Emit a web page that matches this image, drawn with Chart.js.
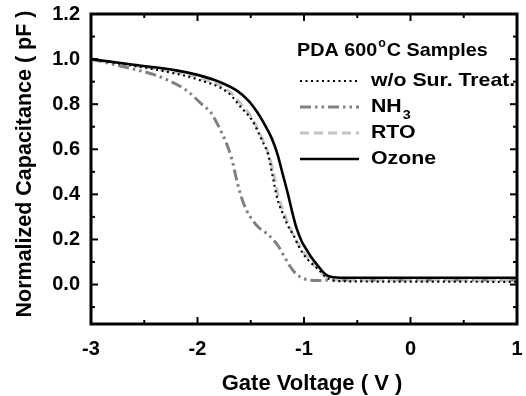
<!DOCTYPE html>
<html><head><meta charset="utf-8">
<script src="https://cdn.jsdelivr.net/npm/chart.js@4.4.1/dist/chart.umd.min.js"></script>
<style>html,body{margin:0;padding:0;background:#fff}</style>
</head><body>
<canvas id="c" width="526" height="396"></canvas>
<script>
// ---- data ----
const xTicks = [-3, -2, -1, 0, 1];
const yTicks = [0, 0.2, 0.4, 0.6, 0.8, 1.0, 1.2];
const xMinorTicks = [-2.5, -1.5, -0.5, 0.5];
const yMinorTicks = [-0.1, 0.1, 0.3, 0.5, 0.7, 0.9, 1.1];

const vWo = [-3, -2.6, -2.3, -2.0, -1.71, -1.59, -1.49, -1.40, -1.33, -1.29, -1.25, -1.20, -1.15, -1.10, -1.05, -0.99, -0.93, -0.86, -0.80, -0.74, -0.65, 0, 1];
const cWo = [1.00, 0.97, 0.945, 0.91, 0.85, 0.785, 0.73, 0.645, 0.565, 0.47, 0.38, 0.315, 0.26, 0.22, 0.17, 0.125, 0.095, 0.065, 0.035, 0.02, 0.015, 0.013, 0.012];

const vNH3 = [-3, -2.64, -2.4, -2.27, -2.1, -1.96, -1.87, -1.80, -1.74, -1.68, -1.63, -1.59, -1.54, -1.49, -1.43, -1.36, -1.30, -1.24, -1.18, -1.13, -1.08, -1.02, -0.95, -0.85, -0.75, 0, 1];
const cNH3 = [1.00, 0.96, 0.93, 0.905, 0.86, 0.80, 0.76, 0.70, 0.64, 0.56, 0.46, 0.39, 0.33, 0.29, 0.255, 0.23, 0.205, 0.17, 0.12, 0.08, 0.05, 0.03, 0.02, 0.018, 0.02, 0.02, 0.02];

const vRTO = [-3, -2.6, -2.3, -2.0, -1.71, -1.59, -1.49, -1.40, -1.33, -1.28, -1.24, -1.19, -1.14, -1.09, -1.04, -0.99, -0.93, -0.87, -0.82, -0.77, -0.72, -0.65, 0, 1];
const cRTO = [1.00, 0.972, 0.95, 0.92, 0.86, 0.80, 0.74, 0.655, 0.575, 0.48, 0.39, 0.32, 0.26, 0.21, 0.17, 0.135, 0.10, 0.07, 0.045, 0.03, 0.022, 0.02, 0.02, 0.02];

const vOzone = [-3, -2.6, -2.2, -2.0, -1.8, -1.63, -1.52, -1.44, -1.37, -1.30, -1.25, -1.20, -1.15, -1.11, -1.07, -1.02, -0.97, -0.93, -0.88, -0.83, -0.78, -0.72, -0.65, -0.5, 0, 0.5, 1];
const cOzone = [1.00, 0.975, 0.95, 0.93, 0.90, 0.86, 0.815, 0.765, 0.71, 0.645, 0.58, 0.49, 0.40, 0.32, 0.25, 0.19, 0.15, 0.12, 0.09, 0.06, 0.04, 0.032, 0.03, 0.03, 0.03, 0.03, 0.03];

const seriesLabels = [['w/o Sur. Treat.', ''], ['NH', '3'], ['RTO', ''], ['Ozone', '']];

const pts = (v, c) => v.map((x, i) => ({x, y: c[i]}));
const FONT = '"Liberation Sans", Arial, Helvetica, sans-serif';

const datasets = [
  {data: pts(vWo, cWo), borderColor: '#000', borderWidth: 2.2, borderDash: [2, 3.5], order: 2},
  {data: pts(vNH3, cNH3), borderColor: '#808080', borderWidth: 3, borderDash: [11, 4, 2.5, 4, 2.5, 4], order: 4},
  {data: pts(vRTO, cRTO), borderColor: '#c4c4c4', borderWidth: 3, borderDash: [9, 5], order: 3},
  {data: pts(vOzone, cOzone), borderColor: '#000', borderWidth: 2.6, borderDash: [], order: 1}
];
datasets.forEach(d => { d.showLine = true; d.pointRadius = 0; d.fill = false; d.cubicInterpolationMode = 'monotone'; });

// draw text, optionally stretched horizontally by factor s
function wideText(ctx, text, x, y, font, s) {
  ctx.font = font;
  const w = ctx.measureText(text).width * (s || 1);
  ctx.save(); ctx.translate(x, y); ctx.scale(s || 1, 1); ctx.fillText(text, 0, 0); ctx.restore();
  return w;
}

const decor = {
  id: 'decor',
  afterDraw(chart) {
    const ctx = chart.ctx, a = chart.chartArea, xs = chart.scales.x, ys = chart.scales.y;
    ctx.save();
    ctx.strokeStyle = '#000';
    ctx.lineWidth = 2;
    const tick = (x1, y1, x2, y2) => { ctx.beginPath(); ctx.moveTo(x1, y1); ctx.lineTo(x2, y2); ctx.stroke(); };
    xTicks.forEach(v => { const p = xs.getPixelForValue(v); tick(p, a.bottom, p, a.bottom - 7); tick(p, a.top, p, a.top + 7); });
    xMinorTicks.forEach(v => { const p = xs.getPixelForValue(v); tick(p, a.bottom, p, a.bottom - 4); tick(p, a.top, p, a.top + 4); });
    yTicks.forEach(v => { const p = ys.getPixelForValue(v); tick(a.left, p, a.left + 7, p); tick(a.right, p, a.right - 7, p); });
    yMinorTicks.forEach(v => { const p = ys.getPixelForValue(v); tick(a.left, p, a.left + 4, p); tick(a.right, p, a.right - 4, p); });
    ctx.lineWidth = 3;
    ctx.strokeRect(a.left, a.top, a.right - a.left, a.bottom - a.top);

    // axis titles
    ctx.fillStyle = '#000';
    ctx.textAlign = 'center'; ctx.textBaseline = 'middle';
    ctx.font = 'bold 22px ' + FONT;
    ctx.fillText('Gate Voltage ( V )', 312, 384);
    ctx.save();
    ctx.translate(25, 164); ctx.rotate(-Math.PI / 2);
    ctx.font = 'bold 21.5px ' + FONT;
    ctx.fillText('Normalized Capacitance ( pF )', 0, 0);
    ctx.restore();

    // legend title
    ctx.textAlign = 'left'; ctx.textBaseline = 'alphabetic';
    let x = 297, y = 56;
    x += wideText(ctx, 'PDA 600', x, y, 'bold 19px ' + FONT, 1.04) + 1;
    x += wideText(ctx, 'o', x, y - 9, 'bold 12px ' + FONT, 1.04) + 1;
    wideText(ctx, 'C Samples', x, y, 'bold 19px ' + FONT, 1.04);

    // legend entries
    const rows = [81, 107, 133, 159];
    chart.data.datasets.forEach((d, i) => {
      const ry = rows[i];
      ctx.beginPath();
      ctx.lineWidth = d.borderWidth; ctx.strokeStyle = d.borderColor;
      ctx.setLineDash(d.borderDash);
      ctx.moveTo(300, ry); ctx.lineTo(359, ry); ctx.stroke();
      ctx.setLineDash([]);
      ctx.fillStyle = '#000'; ctx.textBaseline = 'middle';
      const [main, sub] = seriesLabels[i];
      const w = wideText(ctx, main, 371, ry, 'bold 19px ' + FONT, 1.12);
      if (sub) wideText(ctx, sub, 371 + w + 1, ry + 8, 'bold 13px ' + FONT, 1.1);
    });
    ctx.restore();
  }
};

new Chart(document.getElementById('c'), {
  type: 'scatter',
  data: {datasets},
  options: {
    responsive: false, animation: false, devicePixelRatio: 1,
    layout: {padding: {top: 14, right: 9, bottom: 0, left: 0}},
    plugins: {legend: {display: false}, tooltip: {enabled: false}},
    scales: {
      x: {
        type: 'linear', min: -3, max: 1,
        grid: {display: false, drawTicks: false}, border: {display: false},
        afterBuildTicks: s => { s.ticks = xTicks.map(v => ({value: v})); },
        afterFit: s => { s.height = 72; s.paddingLeft = 0; s.paddingRight = 0; },
        ticks: {color: '#000', font: {family: FONT, weight: 'bold', size: 20}, padding: 13, maxRotation: 0,
          callback: v => String(v)}
      },
      y: {
        type: 'linear', min: -0.175, max: 1.2,
        grid: {display: false, drawTicks: false}, border: {display: false},
        afterBuildTicks: s => { s.ticks = yTicks.map(v => ({value: v})); },
        afterFit: s => { s.width = 91; s.paddingTop = 0; s.paddingBottom = 0; },
        ticks: {color: '#000', font: {family: FONT, weight: 'bold', size: 20}, padding: 11,
          callback: v => v.toFixed(1)}
      }
    }
  },
  plugins: [decor]
});
</script>
</body></html>
